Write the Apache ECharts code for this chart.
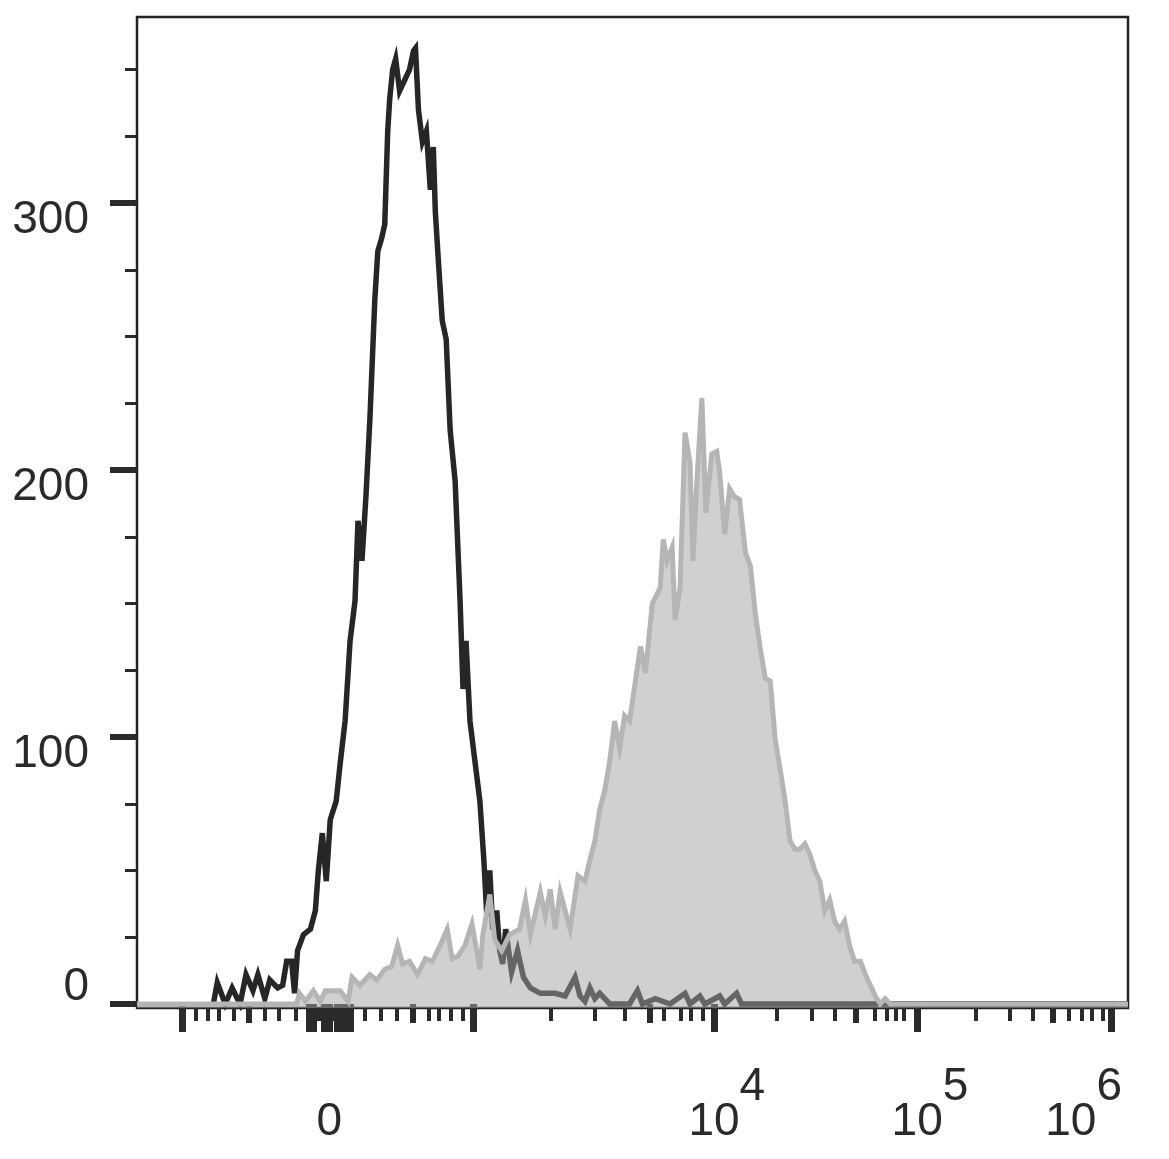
<!DOCTYPE html>
<html>
<head>
<meta charset="utf-8">
<script src="https://cdn.jsdelivr.net/npm/echarts@6/dist/echarts.min.js"></script>
<style>
html,body{margin:0;padding:0;background:#fff;}
#chart{width:1169px;height:1159px;}
</style>
</head>
<body>
<div id="chart"></div>
<script>
// x axis: display channel (biexponential scale, 0..1000)
const blackChannel = [77,81,89,96,104,110,117,122,129,134,142,147,151,156,159,162,168,175,180,183,187,191,195,201,205,210,215,220,223,227,231,235,240,243,247,250,253,255,258,261,265,270,275,279,281,284,288,292,296,299,301,304,308,312,316,321,326,329,332,336,341,346,350,353,356,359,363,366,369,372,378,384,390,397,407,422,432,442,447,452,457,462,467,477,497,505,510,523,538,553,558,568,573,588,593,605,610,1000];
const blackCount   = [0,8,0,6,0,11,5,11,2,9,6,7,16,16,4,20,26,28,35,50,64,46,69,76,90,106,136,151,181,166,190,219,264,282,287,292,327,339,350,354,342,346,350,357,358,335,323,327,305,321,297,279,256,249,215,196,151,118,136,106,91,76,54,33,50,28,35,20,15,28,12,20,10,6,4,4,3,10,3,1,6,2,4,0,0,5,0,2,0,4,0,3,0,3,0,4,0,0];

const grayChannel = [0,161,164,170,178,185,190,198,205,213,217,225,235,242,250,257,263,268,275,283,291,298,306,313,318,324,331,338,346,349,356,361,368,376,386,392,397,407,412,417,422,427,437,445,452,457,462,467,472,477,482,487,492,497,503,508,513,520,528,531,535,540,543,548,553,558,561,565,570,574,580,585,588,593,598,603,608,614,619,624,629,634,639,644,649,654,659,664,669,674,679,684,689,694,699,704,709,714,719,724,730,735,740,745,750,755,760,1000];
const grayCount   = [0,0,4,1,5,1,5,5,5,1,10,7,11,9,13,14,22,15,16,11,17,16,22,28,17,18,22,30,13,26,41,24,20,26,28,39,26,42,33,43,28,42,28,48,46,54,61,73,80,91,106,96,108,106,121,134,124,150,156,174,166,171,144,156,214,203,166,196,227,184,206,207,199,176,193,190,189,169,164,146,133,122,121,99,88,76,61,58,58,60,56,50,46,35,39,31,28,31,22,16,16,11,7,3,0,2,0,0];

// tick positions on the channel scale
const tickLong   = [46,174,178,189,194,202,206,212,215,339,582,787,983];
const tickMedium = [113,278,517,725,924];
const tickShort  = [59,71,82,98,129,143,160,182,185,198,230,246,262,294,304,317,329,418,462,492,532,549,559,571,646,681,704,744,757,766,774,846,881,904,940,953,963,975];
const xLabelValues = [194,582,787,983];
const xLabelExps   = ['', '4', '5', '6'];

const yMajor = [0,100,200,300];
const yMinor = [25,50,75,125,150,175,225,250,275,325,350];

const FONT = '"Liberation Sans", Arial, sans-serif';
const INK = '#2a2a2a';

const chart = echarts.init(document.getElementById('chart'), null, {renderer:'canvas'});

function zip(a,b){ return a.map((v,i)=>[v,b[i]]); }

const xBase = {type:'value', min:0, max:1000, position:'bottom', offset:0,
  axisLine:{show:false}, splitLine:{show:false}, axisLabel:{show:false}};

const option = {
  backgroundColor:'#fff',
  animation:false,
  grid:{left:137, top:17, width:991, height:991, show:true, borderColor:'#222', borderWidth:2.5,
    backgroundColor:'transparent', containLabel:false, outerBoundsMode:'none'},
  xAxis:[
    Object.assign({}, xBase, {axisTick:{show:true, customValues:tickLong, length:28, lineStyle:{color:INK, width:7}}}),
    Object.assign({}, xBase, {axisTick:{show:true, customValues:tickMedium, length:19, lineStyle:{color:INK, width:6}}}),
    Object.assign({}, xBase, {axisTick:{show:true, customValues:tickShort, length:13, lineStyle:{color:INK, width:4}}}),
    Object.assign({}, xBase, {axisTick:{show:false},
      axisLabel:{show:true, customValues:xLabelValues, margin:91,
        formatter:function(v){
          const i = xLabelValues.indexOf(v);
          const e = i>=0 ? xLabelExps[i] : '';
          if(!e) return '{p0|0}';
          if(e==='6') return '{b|10}{s|6}{sp2| }';
          return '{sp| }{b|10}{s|'+e+'}';
        },
        rich:{
          p0:{fontFamily:FONT, fontSize:46, color:INK, lineHeight:46, padding:[35,0,35,0]},
          b:{fontFamily:FONT, fontSize:46, color:INK, lineHeight:46},
          s:{fontFamily:FONT, fontSize:46, color:INK, lineHeight:46, padding:[0,0,70,0]},
          sp:{fontFamily:FONT, fontSize:46, lineHeight:46, width:26},
          sp2:{fontFamily:FONT, fontSize:46, lineHeight:46, width:55}
        }
      }})
  ],
  yAxis:[
    {type:'value', min:-1.5, max:369.7, position:'left', axisLine:{show:false}, splitLine:{show:false},
      axisTick:{show:true, customValues:yMajor, length:27, lineStyle:{color:INK, width:6}},
      axisLabel:{show:true, customValues:yMajor, margin:48,
        formatter:function(v){ return v===0 ? '{z|0}' : '{a|'+v+'}'; },
        rich:{
          a:{fontFamily:FONT, fontSize:46, color:INK, lineHeight:46, padding:[34,0,0,0]},
          z:{fontFamily:FONT, fontSize:46, color:INK, lineHeight:46, padding:[0,0,34,0]}
        }
      }},
    {type:'value', min:-1.5, max:369.7, position:'left', axisLine:{show:false}, splitLine:{show:false},
      axisTick:{show:true, customValues:yMinor, length:12, lineStyle:{color:INK, width:3}},
      axisLabel:{show:false}}
  ],
  series:[
    {type:'line', name:'control', xAxisIndex:0, yAxisIndex:0, data:zip(blackChannel, blackCount),
      showSymbol:false, symbol:'none', z:2,
      lineStyle:{color:'#262626', width:5.5, join:'miter', miterLimit:6}},
    {type:'line', name:'stained', xAxisIndex:0, yAxisIndex:0, data:zip(grayChannel, grayCount),
      showSymbol:false, symbol:'none', z:3,
      lineStyle:{color:'#b5b5b8', width:5, join:'miter', miterLimit:6},
      areaStyle:{color:'#a3a3a3', opacity:0.51, origin:'start'}}
  ]
};
chart.setOption(option);
</script>
</body>
</html>
